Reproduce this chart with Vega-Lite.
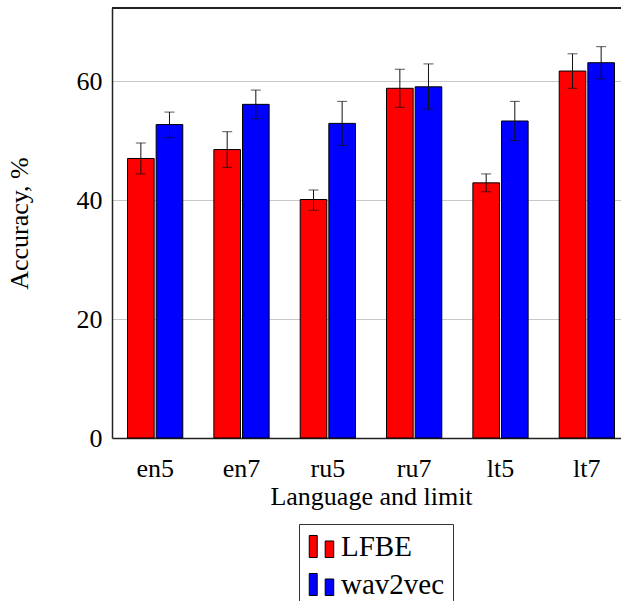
{
  "$schema": "https://vega.github.io/schema/vega-lite/v6.json",
  "autosize": "none",
  "padding": {"left": 112, "top": 8, "right": 0, "bottom": 163},
  "width": 509,
  "height": 430,
  "background": "white",
  "config": {
    "view": {"stroke": null},
    "font": "Liberation Serif, Times New Roman, serif",
    "axis": {"labelFont": "Liberation Serif, Times New Roman, serif", "titleFont": "Liberation Serif, Times New Roman, serif", "labelColor": "black", "titleColor": "black", "titleFontWeight": "normal", "domainColor": "#222222", "domainWidth": 1.5},
    "legend": {"labelFont": "Liberation Serif, Times New Roman, serif"}
  },
  "data": {
    "values": [
      {"lang": "en5", "model": "LFBE", "acc": 47.0, "lo": 44.4, "hi": 49.6},
      {"lang": "en5", "model": "wav2vec", "acc": 52.7, "lo": 50.5, "hi": 54.8},
      {"lang": "en7", "model": "LFBE", "acc": 48.5, "lo": 45.5, "hi": 51.5},
      {"lang": "en7", "model": "wav2vec", "acc": 56.1, "lo": 53.7, "hi": 58.5},
      {"lang": "ru5", "model": "LFBE", "acc": 40.1, "lo": 38.3, "hi": 41.7},
      {"lang": "ru5", "model": "wav2vec", "acc": 52.9, "lo": 49.2, "hi": 56.6},
      {"lang": "ru7", "model": "LFBE", "acc": 58.8, "lo": 55.6, "hi": 62.0},
      {"lang": "ru7", "model": "wav2vec", "acc": 59.05, "lo": 55.3, "hi": 62.9},
      {"lang": "lt5", "model": "LFBE", "acc": 42.9, "lo": 41.4, "hi": 44.4},
      {"lang": "lt5", "model": "wav2vec", "acc": 53.3, "lo": 50.0, "hi": 56.6},
      {"lang": "lt7", "model": "LFBE", "acc": 61.7, "lo": 58.8, "hi": 64.6},
      {"lang": "lt7", "model": "wav2vec", "acc": 63.1, "lo": 60.4, "hi": 65.8}
    ]
  },
  "layer": [
    {
      "mark": {"type": "bar", "stroke": "black", "strokeWidth": 1},
      "encoding": {
        "x": {
          "field": "lang", "type": "nominal", "sort": ["en5", "en7", "ru5", "ru7", "lt5", "lt7"],
          "scale": {"paddingInner": 0.36, "paddingOuter": 0.18, "rangeMax": 518},
          "axis": {"title": "Language and limit", "labelAngle": 0, "labelFontSize": 26, "titleFontSize": 26, "ticks": false, "domain": true, "labelPadding": 17, "titlePadding": 2}
        },
        "xOffset": {"field": "model", "type": "nominal", "scale": {"paddingInner": 0.07, "paddingOuter": 0}},
        "y": {
          "field": "acc", "type": "quantitative",
          "scale": {"domain": [0, 72.3], "nice": false},
          "axis": {"title": "Accuracy, %", "values": [0, 20, 40, 60], "labelFontSize": 26, "titleFontSize": 26, "ticks": false, "domain": true, "grid": true, "gridColor": "#c8c8c8", "gridWidth": 1, "labelPadding": 10, "titlePadding": 44}
        },
        "color": {
          "field": "model", "type": "nominal",
          "scale": {"domain": ["LFBE", "wav2vec"], "range": ["#ff0000", "#0000ff"]},
          "legend": {
            "title": null, "orient": "none", "legendX": 187, "legendY": 516,
            "direction": "vertical",
            "strokeColor": "#333333", "fillColor": "white", "padding": 8,
            "symbolType": "M-1,-0.9H-0.35V0.9H-1Z M0.3,-0.45H1V0.9H0.3Z",
            "symbolSize": 600, "symbolStrokeColor": "black", "symbolStrokeWidth": 1,
            "labelFontSize": 29, "labelColor": "black", "labelOffset": 5, "rowPadding": 8, "labelLimit": 300
          }
        }
      }
    },
    {
      "mark": {"type": "rule", "color": "#222222", "strokeWidth": 1.5},
      "encoding": {"y": {"datum": 72.3}}
    },
    {
      "mark": {"type": "rule", "color": "#111111", "strokeWidth": 1},
      "encoding": {
        "x": {"field": "lang", "type": "nominal", "sort": ["en5", "en7", "ru5", "ru7", "lt5", "lt7"]},
        "xOffset": {"field": "model", "type": "nominal"},
        "y": {"field": "lo", "type": "quantitative"},
        "y2": {"field": "hi"}
      }
    },
    {
      "mark": {"type": "tick", "color": "#111111", "thickness": 1, "size": 10, "orient": "horizontal"},
      "encoding": {
        "x": {"field": "lang", "type": "nominal", "sort": ["en5", "en7", "ru5", "ru7", "lt5", "lt7"]},
        "xOffset": {"field": "model", "type": "nominal"},
        "y": {"field": "lo", "type": "quantitative"}
      }
    },
    {
      "mark": {"type": "tick", "color": "#111111", "thickness": 1, "size": 10, "orient": "horizontal"},
      "encoding": {
        "x": {"field": "lang", "type": "nominal", "sort": ["en5", "en7", "ru5", "ru7", "lt5", "lt7"]},
        "xOffset": {"field": "model", "type": "nominal"},
        "y": {"field": "hi", "type": "quantitative"}
      }
    }
  ]
}
